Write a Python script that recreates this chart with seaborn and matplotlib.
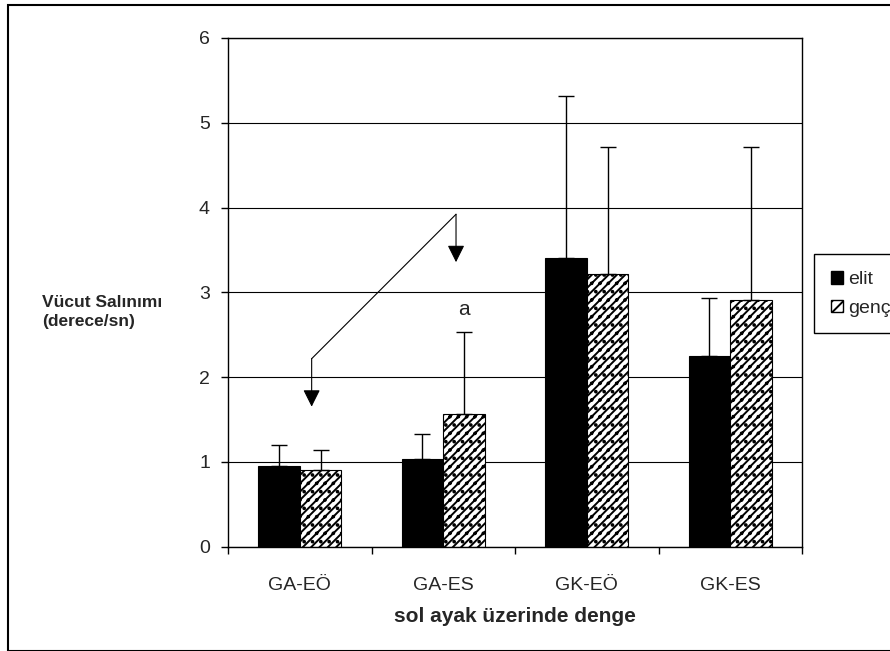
import numpy as np
import pandas as pd
import seaborn as sns
import matplotlib.pyplot as plt
from matplotlib.patches import Patch, Rectangle

sns.set_theme(style="white")
plt.rcParams["font.family"] = ["Liberation Sans", "DejaVu Sans"]
plt.rcParams["hatch.linewidth"] = 1.4

categories = ["GA-EÖ", "GA-ES", "GK-EÖ", "GK-ES"]
groups = ["elit", "genç"]
elit_mean = [0.955, 1.03, 3.41, 2.25]
genc_mean = [0.90, 1.565, 3.215, 2.91]
elit_sd = [0.245, 0.30, 1.91, 0.685]
genc_sd = [0.235, 0.965, 1.495, 1.80]

# significance arrow (data coords) and label
arrow_path_x = [0.083, 0.083, 1.089, 1.089]
arrow_path_y = [1.65, 2.216, 3.92, 3.355]
sig_label = "a"
sig_pos = (1.145, 2.80)

df = pd.DataFrame({
    "kategori": categories * 2,
    "grup": ["elit"] * 4 + ["genç"] * 4,
    "deger": elit_mean + genc_mean,
    "sd": elit_sd + genc_sd,
})

fig = plt.figure(figsize=(8.9, 6.51), dpi=100)
ax = fig.add_axes([228 / 890, 1 - 546.5 / 651, 574 / 890, 508.5 / 651])

sns.barplot(data=df, x="kategori", y="deger", hue="grup", order=categories,
            hue_order=groups, palette={"elit": "black", "genç": "white"},
            width=0.58, errorbar=None, edgecolor="black", linewidth=0.8,
            legend=False, ax=ax)

bars = ax.patches[:8]
for i, bar in enumerate(bars):
    g = i // 4
    c = i % 4
    if g == 1:
        bar.set_hatch("////..")
    sd = (elit_sd if g == 0 else genc_sd)[c]
    val = (elit_mean if g == 0 else genc_mean)[c]
    xc = bar.get_x() + bar.get_width() / 2
    ax.errorbar(xc, val, yerr=[[0], [sd]], fmt="none", ecolor="black",
                elinewidth=1, capsize=6, capthick=1, zorder=1)

ax.set_ylim(0, 6)
ax.set_xlim(-0.5, 3.5)
ax.set_yticks(range(0, 7))
ax.yaxis.grid(True, color="black", linewidth=0.8)
ax.set_axisbelow(True)
for s in ax.spines.values():
    s.set_color("black")
    s.set_linewidth(1)
ax.tick_params(axis="y", left=True, length=5, width=1, color="black",
               labelsize=14, pad=8)
ax.tick_params(axis="x", which="major", length=0, labelsize=14, pad=22)
ax.set_xticks(np.arange(-0.5, 4.0, 1.0), minor=True)
ax.tick_params(axis="x", which="minor", bottom=True, length=5, width=1,
               color="black")
ax.set_ylabel("")
ax.set_xlabel("sol ayak üzerinde denge", fontsize=15, fontweight="bold",
              labelpad=9)

fig.text(42 / 890, 1 - 312 / 651, "Vücut Salınımı\n(derece/sn)",
         fontsize=12.5, fontweight="bold", ha="left", va="center",
         linespacing=1.3)

# arrow
ax.plot(arrow_path_x[1:3], arrow_path_y[1:3], color="black", lw=0.8)
head = "-|>,head_length=0.5,head_width=0.25"
ax.annotate("", xy=(arrow_path_x[0], arrow_path_y[0]),
            xytext=(arrow_path_x[1], arrow_path_y[1]),
            arrowprops=dict(arrowstyle=head, color="black", lw=0.8,
                            mutation_scale=21, shrinkA=0, shrinkB=0))
ax.annotate("", xy=(arrow_path_x[3], arrow_path_y[3]),
            xytext=(arrow_path_x[2], arrow_path_y[2]),
            arrowprops=dict(arrowstyle=head, color="black", lw=0.8,
                            mutation_scale=21, shrinkA=0, shrinkB=0))
ax.text(sig_pos[0], sig_pos[1], sig_label, fontsize=15, ha="center",
        va="center")

handles = [Patch(facecolor="black", edgecolor="black", label="elit"),
           Patch(facecolor="white", edgecolor="black", hatch="///",
                 label="genç")]
fig.legend(handles=handles, loc="upper left",
           bbox_to_anchor=(814 / 890, 1 - 254 / 651), fontsize=14,
           frameon=True, fancybox=False, edgecolor="black", framealpha=1,
           handlelength=0.65, handleheight=0.65, handletextpad=0.25,
           labelspacing=0.6, borderpad=0.85, borderaxespad=0)

fig.patches.append(Rectangle((7.5 / 890, 0.0), 1.2, 1 - 4.5 / 651,
                             transform=fig.transFigure, fill=False,
                             edgecolor="black", linewidth=1.5,
                             clip_on=False, figure=fig))

fig.savefig("out.png", dpi=100)
